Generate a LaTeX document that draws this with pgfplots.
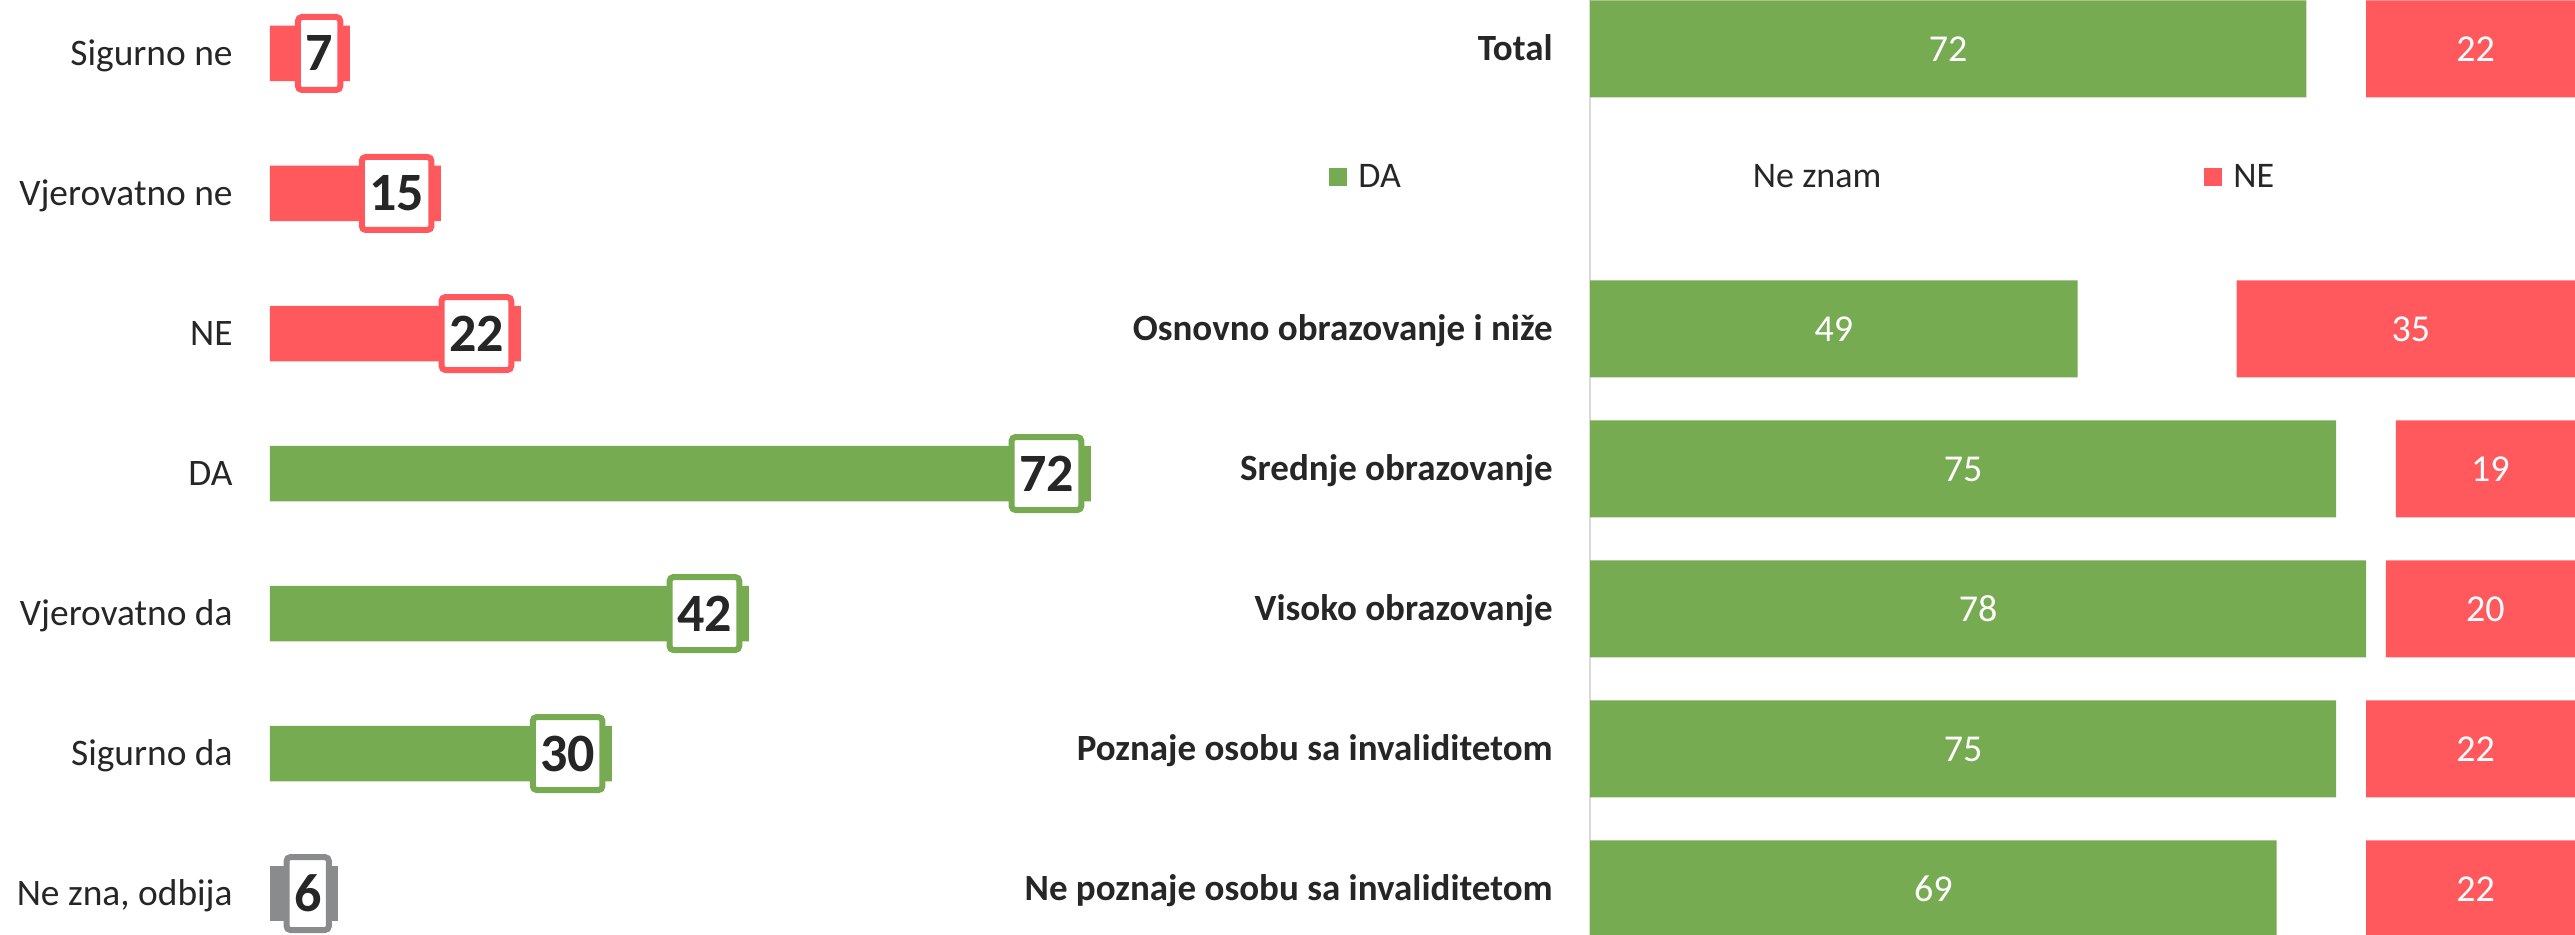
\documentclass[border=0pt]{standalone}
\usepackage{pgfplots}
\pgfplotsset{compat=1.18}
\usepackage{pgfplotstable}
\usepackage{fontspec}
\setmainfont{Carlito}
\definecolor{cgreen}{RGB}{118,171,82}
\definecolor{cred}{RGB}{255,89,94}
\definecolor{cgray}{RGB}{137,139,141}
\definecolor{ctext}{RGB}{38,38,38}
\definecolor{caxis}{RGB}{217,217,217}

\pgfplotstableread{
y val
0 7
1 15
2 22
}\leftred
\pgfplotstableread{
y val
3 72
4 42
5 30
}\leftgreen
\pgfplotstableread{
y val
6 6
}\leftgray
\pgfplotstableread{
y da neznam ne
0 72 6 22
2 49 16 35
3 75 6 19
4 78 2 20
5 75 3 22
6 69 9 22
}\rightdata

\pgfplotsset{
  boxlab/.style={nodes near coords,
    nodes near coords align={east},
    every node near coord/.append style={anchor=east, xshift=-4.75pt,
      font=\fontsize{27pt}{30pt}\selectfont\bfseries, text=ctext, fill=white,
      draw=#1, line width=3pt, rounded corners=2pt, inner xsep=3.75pt,
      inner ysep=0pt, minimum height=36.5pt, outer sep=0pt}},
  centlab/.style={nodes near coords, point meta=explicit symbolic,
    nodes near coords align={center},
    every node near coord/.append style={anchor=center, text=#1,
      font=\fontsize{19pt}{22pt}\selectfont}},
}

\begin{document}
\begin{tikzpicture}[x=1pt,y=1pt]
\useasboundingbox (0,0) rectangle (1287.5,467.5);
% left panel
\begin{axis}[
  at={(135pt,0pt)}, anchor=south west,
  scale only axis, width=456pt, height=467.5pt,
  xmin=0, xmax=80, ymin=-0.382, ymax=6.296, y dir=reverse,
  axis x line=none, axis y line=left,
  y axis line style={draw=none},
  major tick length=0pt,
  /pgf/number format/assume math mode=true,
  ytick={0,1,2,3,4,5,6},
  yticklabels={Sigurno ne, Vjerovatno ne, NE, DA, Vjerovatno da, Sigurno da, {Ne zna, odbija}},
  yticklabel style={font=\fontsize{18.7pt}{22pt}\selectfont, text=ctext,
    anchor=base east, inner sep=0pt, xshift=-18.5pt, yshift=-6pt},
  xbar, bar width=27.75pt, bar shift=0pt,
  clip=false,
]
\addplot[fill=cred, draw=none, boxlab=cred] table[x=val,y=y] {\leftred};
\addplot[fill=cgreen, draw=none, boxlab=cgreen] table[x=val,y=y] {\leftgreen};
\addplot[fill=cgray, draw=none, boxlab=cgray] table[x=val,y=y] {\leftgray};
\end{axis}
% right panel
\begin{axis}[
  at={(795pt,0pt)}, anchor=south west,
  scale only axis, width=492.5pt, height=467.5pt,
  xmin=0, xmax=99, ymin=-0.35, ymax=6.329, y dir=reverse,
  axis x line=none, axis y line=left,
  y axis line style={draw=caxis, line width=1pt, -},
  major tick length=0pt,
  clip=false,
  ytick={0,2,3,4,5,6},
  yticklabels={Total, Osnovno obrazovanje i niže, Srednje obrazovanje, Visoko obrazovanje, Poznaje osobu sa invaliditetom, Ne poznaje osobu sa invaliditetom},
  yticklabel style={font=\fontsize{18.5pt}{22pt}\selectfont\bfseries, text=ctext,
    anchor=base east, inner sep=0pt, xshift=-18.5pt, yshift=-6pt},
  xbar stacked, bar width=48.5pt,
  legend columns=-1,
  legend cell align=left,
  legend style={draw=none, fill=none, at={(-0.271,0.8107)}, anchor=west,
    font=\fontsize{18pt}{21pt}\selectfont, text=ctext,
    nodes={inner sep=0pt},
    /tikz/every odd column/.append style={column sep=5.5pt},
    /tikz/every even column/.append style={column sep=161.5pt}},
]
\addplot[fill=cgreen, draw=none, centlab=white,
  legend image code/.code={\fill[cgreen] (0pt,-4.5pt) rectangle (9pt,4.5pt);}]
  table[x=da,y=y,meta=da] {\rightdata};
\addlegendentry{DA}
\addplot[fill=none, draw=none,
  legend image code/.code={\path (0pt,-4.5pt) rectangle (9pt,4.5pt);}]
  table[x=neznam,y=y] {\rightdata};
\addlegendentry{Ne znam}
\addplot[fill=cred, draw=none, centlab=white,
  legend image code/.code={\fill[cred] (0pt,-4.5pt) rectangle (9pt,4.5pt);}]
  table[x=ne,y=y,meta=ne] {\rightdata};
\addlegendentry{NE}
\end{axis}
\end{tikzpicture}
\end{document}
